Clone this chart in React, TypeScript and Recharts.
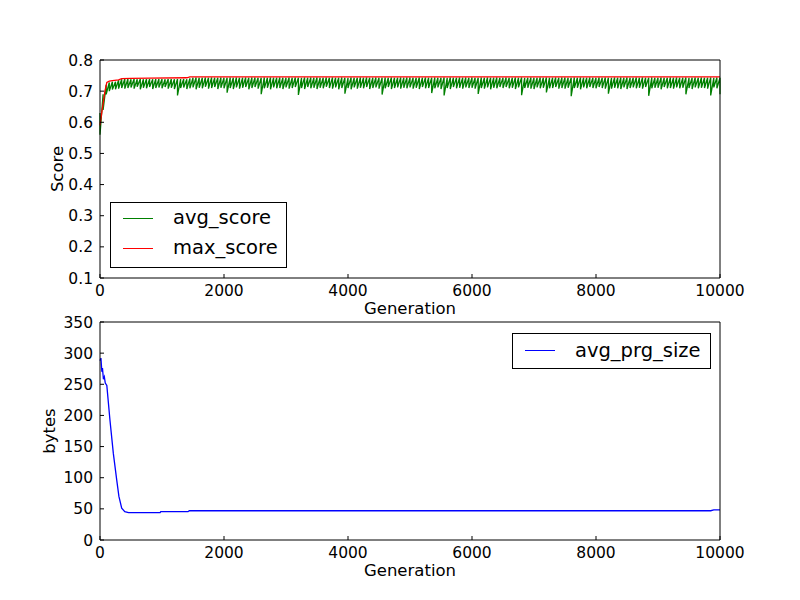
import { LineChart, Line, XAxis, YAxis, Legend, Label } from "recharts";

const FONT = "'DejaVu Sans', 'Bitstream Vera Sans', sans-serif";

// generations sampled for the noisy average score (one column per 50 generations)
const scoreGens = [
  0, 50, 100, 150, 200, 250, 300, 350, 400, 450,
  500, 550, 600, 650, 700, 750, 800, 850, 900, 950,
  1000, 1050, 1100, 1150, 1200, 1250, 1300, 1350, 1400, 1450,
  1500, 1550, 1600, 1650, 1700, 1750, 1800, 1850, 1900, 1950,
  2000, 2050, 2100, 2150, 2200, 2250, 2300, 2350, 2400, 2450,
  2500, 2550, 2600, 2650, 2700, 2750, 2800, 2850, 2900, 2950,
  3000, 3050, 3100, 3150, 3200, 3250, 3300, 3350, 3400, 3450,
  3500, 3550, 3600, 3650, 3700, 3750, 3800, 3850, 3900, 3950,
  4000, 4050, 4100, 4150, 4200, 4250, 4300, 4350, 4400, 4450,
  4500, 4550, 4600, 4650, 4700, 4750, 4800, 4850, 4900, 4950,
  5000, 5050, 5100, 5150, 5200, 5250, 5300, 5350, 5400, 5450,
  5500, 5550, 5600, 5650, 5700, 5750, 5800, 5850, 5900, 5950,
  6000, 6050, 6100, 6150, 6200, 6250, 6300, 6350, 6400, 6450,
  6500, 6550, 6600, 6650, 6700, 6750, 6800, 6850, 6900, 6950,
  7000, 7050, 7100, 7150, 7200, 7250, 7300, 7350, 7400, 7450,
  7500, 7550, 7600, 7650, 7700, 7750, 7800, 7850, 7900, 7950,
  8000, 8050, 8100, 8150, 8200, 8250, 8300, 8350, 8400, 8450,
  8500, 8550, 8600, 8650, 8700, 8750, 8800, 8850, 8900, 8950,
  9000, 9050, 9100, 9150, 9200, 9250, 9300, 9350, 9400, 9450,
  9500, 9550, 9600, 9650, 9700, 9750, 9800, 9850, 9900, 9950,
  10000,
];

// top of the green band in each column
const avgHigh = [
  0.63, 0.69, 0.72, 0.728, 0.73, 0.73, 0.735, 0.738, 0.739, 0.739,
  0.738, 0.739, 0.738, 0.739, 0.738, 0.739, 0.739, 0.738, 0.739, 0.739,
  0.739, 0.738, 0.739, 0.739, 0.738, 0.739, 0.739, 0.739, 0.738, 0.741,
  0.743, 0.744, 0.743, 0.743, 0.744, 0.743, 0.744, 0.743, 0.743, 0.744,
  0.743, 0.743, 0.744, 0.743, 0.744, 0.743, 0.743, 0.744, 0.743, 0.744,
  0.744, 0.743, 0.743, 0.744, 0.743, 0.744, 0.743, 0.743, 0.744, 0.743,
  0.743, 0.744, 0.743, 0.744, 0.743, 0.743, 0.744, 0.743, 0.744, 0.743,
  0.744, 0.743, 0.743, 0.744, 0.743, 0.744, 0.743, 0.743, 0.744, 0.743,
  0.743, 0.744, 0.743, 0.743, 0.744, 0.743, 0.744, 0.743, 0.743, 0.744,
  0.743, 0.743, 0.744, 0.743, 0.744, 0.743, 0.743, 0.744, 0.743, 0.744,
  0.744, 0.743, 0.743, 0.744, 0.743, 0.744, 0.743, 0.743, 0.744, 0.743,
  0.743, 0.744, 0.743, 0.744, 0.743, 0.743, 0.744, 0.743, 0.744, 0.743,
  0.744, 0.743, 0.743, 0.744, 0.743, 0.744, 0.743, 0.743, 0.744, 0.743,
  0.743, 0.744, 0.743, 0.743, 0.744, 0.743, 0.744, 0.743, 0.743, 0.744,
  0.743, 0.743, 0.744, 0.743, 0.744, 0.743, 0.743, 0.744, 0.743, 0.744,
  0.744, 0.743, 0.743, 0.744, 0.743, 0.744, 0.743, 0.743, 0.744, 0.743,
  0.743, 0.744, 0.743, 0.744, 0.743, 0.743, 0.744, 0.743, 0.744, 0.743,
  0.744, 0.743, 0.743, 0.744, 0.743, 0.744, 0.743, 0.743, 0.744, 0.743,
  0.743, 0.744, 0.743, 0.743, 0.744, 0.743, 0.744, 0.743, 0.743, 0.744,
  0.743, 0.743, 0.744, 0.743, 0.744, 0.743, 0.743, 0.744, 0.743, 0.744,
  0.743,
];

// bottom of the green band in each column
const avgLow = [
  0.56, 0.64, 0.69, 0.70, 0.705, 0.706, 0.708, 0.71, 0.708, 0.71,
  0.712, 0.708, 0.714, 0.706, 0.711, 0.709, 0.713, 0.707, 0.71, 0.712,
  0.709, 0.713, 0.708, 0.711, 0.707, 0.686, 0.71, 0.712, 0.707, 0.709,
  0.712, 0.706, 0.711, 0.709, 0.714, 0.708, 0.71, 0.713, 0.707, 0.711,
  0.709, 0.695, 0.71, 0.707, 0.712, 0.708, 0.711, 0.713, 0.706, 0.71,
  0.713, 0.708, 0.69, 0.709, 0.711, 0.706, 0.712, 0.709, 0.71, 0.707,
  0.712, 0.708, 0.71, 0.713, 0.688, 0.71, 0.707, 0.713, 0.709, 0.711,
  0.707, 0.711, 0.709, 0.714, 0.71, 0.708, 0.712, 0.706, 0.71, 0.692,
  0.71, 0.706, 0.712, 0.708, 0.711, 0.709, 0.713, 0.707, 0.71, 0.712,
  0.708, 0.689, 0.709, 0.713, 0.707, 0.71, 0.712, 0.708, 0.711, 0.709,
  0.712, 0.708, 0.711, 0.707, 0.713, 0.709, 0.71, 0.694, 0.709, 0.712,
  0.707, 0.686, 0.71, 0.707, 0.713, 0.709, 0.711, 0.708, 0.712, 0.71,
  0.711, 0.708, 0.691, 0.71, 0.708, 0.712, 0.706, 0.711, 0.709, 0.713,
  0.71, 0.713, 0.709, 0.711, 0.707, 0.712, 0.687, 0.71, 0.711, 0.708,
  0.707, 0.712, 0.709, 0.711, 0.696, 0.709, 0.71, 0.713, 0.708, 0.71,
  0.708, 0.711, 0.684, 0.71, 0.711, 0.706, 0.712, 0.709, 0.713, 0.71,
  0.709, 0.713, 0.71, 0.708, 0.692, 0.708, 0.711, 0.709, 0.707, 0.712,
  0.707, 0.71, 0.712, 0.709, 0.711, 0.708, 0.713, 0.685, 0.709, 0.711,
  0.711, 0.706, 0.713, 0.709, 0.71, 0.708, 0.712, 0.709, 0.711, 0.69,
  0.71, 0.707, 0.712, 0.709, 0.711, 0.71, 0.708, 0.686, 0.712, 0.709,
  0.69,
];

const maxGens = [0, 20, 50, 80, 110, 150, 200, 300, 350, 500, 800, 1400, 1450, 3000, 6000, 10000];
const maxScore = [0.59, 0.62, 0.66, 0.70, 0.728, 0.732, 0.734, 0.736, 0.740, 0.741, 0.742, 0.743, 0.746, 0.746, 0.746, 0.746];

const sizeGens = [0, 15, 30, 40, 55, 70, 85, 110, 160, 215, 270, 305, 350, 400, 460, 970, 980, 1420, 1440, 9850, 9900, 10000];
const prgSize = [288, 292, 270, 276, 258, 262, 252, 248, 193, 139, 96, 70, 51, 45.5, 44, 44, 45.5, 45.5, 47, 47, 48.5, 48.5];

const genTicks = [0, 2000, 4000, 6000, 8000, 10000];
const scoreTicks = [0.1, 0.2, 0.3, 0.4, 0.5, 0.6, 0.7, 0.8];
const sizeTicks = [0, 50, 100, 150, 200, 250, 300, 350];

// each column is drawn top -> bottom, like the dense matplotlib trace
const avgData = scoreGens.flatMap((gen, i) => [
  { gen, avg_score: avgHigh[i] },
  { gen, avg_score: avgLow[i] },
]);
const maxData = maxGens.map((gen, i) => ({ gen, max_score: maxScore[i] }));
const sizeData = sizeGens.map((gen, i) => ({ gen, avg_prg_size: prgSize[i] }));

const tickStyle = { fill: "#000", fontSize: 15.5, fontFamily: FONT };

function BoxLegend({ payload, rowHeight }: { payload?: any[]; rowHeight: number }) {
  return (
    <div
      style={{
        boxSizing: "border-box",
        width: "100%",
        height: "100%",
        border: "1px solid #000",
        background: "#fff",
        fontFamily: FONT,
        fontSize: 19.5,
        color: "#000",
      }}
    >
      {(payload ?? []).map((p) => (
        <div key={p.value} style={{ display: "flex", alignItems: "center", height: rowHeight }}>
          <span
            style={{
              display: "inline-block",
              marginLeft: 12,
              width: 30,
              height: 0,
              borderTop: `1.3px solid ${p.color}`,
            }}
          />
          <span style={{ marginLeft: 20, lineHeight: `${rowHeight}px`, whiteSpace: "nowrap" }}>{p.value}</span>
        </div>
      ))}
    </div>
  );
}

function YTitle({ viewBox, value, inset }: { viewBox?: any; value: string; inset: number }) {
  const vb = viewBox ?? { x: 40, y: 0, width: 60, height: 0 };
  const cx = vb.x + inset;
  const cy = vb.y + vb.height / 2;
  return (
    <text
      x={cx}
      y={cy}
      transform={`rotate(-90, ${cx}, ${cy})`}
      textAnchor="middle"
      fill="#000"
      fontSize={16.5}
      fontFamily={FONT}
    >
      {value}
    </text>
  );
}

function XTitle({ viewBox, value }: { viewBox?: any; value: string }) {
  const vb = viewBox ?? { x: 100, y: 0, width: 620, height: 30 };
  return (
    <text x={vb.x + vb.width / 2} y={vb.y + 36} textAnchor="middle" fill="#000" fontSize={16.5} fontFamily={FONT}>
      {value}
    </text>
  );
}

export default function App() {
  return (
    <div style={{ position: "absolute", left: 0, top: 0, width: 800, height: 600, background: "#fff" }}>
      <div style={{ position: "absolute", left: 0, top: 0 }}>
        <LineChart width={800} height={600} margin={{ top: 59, right: 79, bottom: 292, left: 40 }}>
          <XAxis
            dataKey="gen"
            type="number"
            domain={[0, 10000]}
            ticks={genTicks}
            interval={0}
            height={30}
            tick={tickStyle}
            tickSize={-4}
            tickMargin={10.5}
            axisLine={{ stroke: "#000" }}
            tickLine={{ stroke: "#000" }}
          >
            <Label content={(p: any) => <XTitle viewBox={p.viewBox} value="Generation" />} />
          </XAxis>
          <XAxis
            xAxisId="top"
            orientation="top"
            dataKey="gen"
            type="number"
            domain={[0, 10000]}
            ticks={genTicks}
            interval={0}
            height={1}
            tick={false}
            tickSize={-4}
            axisLine={{ stroke: "#000" }}
            tickLine={{ stroke: "#000" }}
          />
          <YAxis
            type="number"
            domain={[0.1, 0.8]}
            ticks={scoreTicks}
            interval={0}
            width={60}
            tick={tickStyle}
            tickFormatter={(v: number) => v.toFixed(1)}
            tickSize={-4}
            tickMargin={11}
            axisLine={{ stroke: "#000" }}
            tickLine={{ stroke: "#000" }}
          >
            <Label content={(p: any) => <YTitle viewBox={p.viewBox} value="Score" inset={23} />} />
          </YAxis>
          <YAxis
            yAxisId="right"
            orientation="right"
            type="number"
            domain={[0.1, 0.8]}
            ticks={scoreTicks}
            interval={0}
            width={1}
            tick={false}
            tickSize={-4}
            axisLine={{ stroke: "#000" }}
            tickLine={{ stroke: "#000" }}
          />
          <Line
            data={avgData}
            dataKey="avg_score"
            name="avg_score"
            stroke="#008000"
            strokeWidth={1.3}
            dot={false}
            isAnimationActive={false}
          />
          <Line
            data={maxData}
            dataKey="max_score"
            name="max_score"
            stroke="#ff0000"
            strokeWidth={1.3}
            dot={false}
            isAnimationActive={false}
          />
          <Legend
            layout="vertical"
            align="center"
            verticalAlign="middle"
            width={177}
            height={66}
            wrapperStyle={{ left: 110, top: 202, width: 177, height: 66 }}
            content={(p: any) => <BoxLegend payload={p.payload} rowHeight={30} />}
          />
        </LineChart>
      </div>
      <div style={{ position: "absolute", left: 0, top: 0 }}>
        <LineChart width={800} height={600} margin={{ top: 321, right: 79, bottom: 30, left: 40 }}>
          <XAxis
            dataKey="gen"
            type="number"
            domain={[0, 10000]}
            ticks={genTicks}
            interval={0}
            height={30}
            tick={tickStyle}
            tickSize={-4}
            tickMargin={10.5}
            axisLine={{ stroke: "#000" }}
            tickLine={{ stroke: "#000" }}
          >
            <Label content={(p: any) => <XTitle viewBox={p.viewBox} value="Generation" />} />
          </XAxis>
          <XAxis
            xAxisId="top"
            orientation="top"
            dataKey="gen"
            type="number"
            domain={[0, 10000]}
            ticks={genTicks}
            interval={0}
            height={1}
            tick={false}
            tickSize={-4}
            axisLine={{ stroke: "#000" }}
            tickLine={{ stroke: "#000" }}
          />
          <YAxis
            type="number"
            domain={[0, 350]}
            ticks={sizeTicks}
            interval={0}
            width={60}
            tick={tickStyle}
            tickSize={-4}
            tickMargin={11}
            axisLine={{ stroke: "#000" }}
            tickLine={{ stroke: "#000" }}
          >
            <Label content={(p: any) => <YTitle viewBox={p.viewBox} value="bytes" inset={15} />} />
          </YAxis>
          <YAxis
            yAxisId="right"
            orientation="right"
            type="number"
            domain={[0, 350]}
            ticks={sizeTicks}
            interval={0}
            width={1}
            tick={false}
            tickSize={-4}
            axisLine={{ stroke: "#000" }}
            tickLine={{ stroke: "#000" }}
          />
          <Line
            data={sizeData}
            dataKey="avg_prg_size"
            name="avg_prg_size"
            stroke="#0000ff"
            strokeWidth={1.3}
            dot={false}
            isAnimationActive={false}
          />
          <Legend
            layout="vertical"
            align="center"
            verticalAlign="middle"
            width={199}
            height={36}
            wrapperStyle={{ left: 512, top: 333, width: 199, height: 36 }}
            content={(p: any) => <BoxLegend payload={p.payload} rowHeight={33} />}
          />
        </LineChart>
      </div>
    </div>
  );
}
